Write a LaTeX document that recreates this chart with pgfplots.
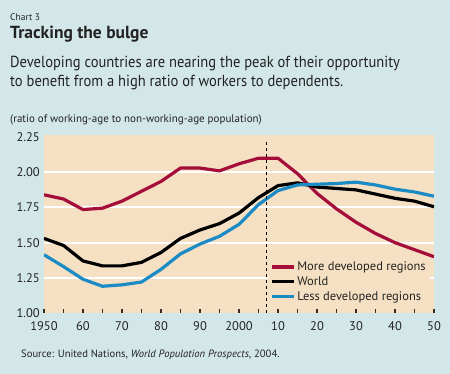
\documentclass[border=0pt]{standalone}
\usepackage{pgfplots}
\pgfplotsset{compat=1.18}
\usepackage{fontspec}
\setmainfont{PT Sans}
\newfontfamily\subfont[FakeStretch=0.91]{PT Sans}
\definecolor{bgblue}{HTML}{D3E7E9}
\definecolor{beige}{HTML}{F5E0C3}
\definecolor{mred}{HTML}{A50E3A}
\definecolor{lblue}{HTML}{1B8BC6}
\definecolor{tickc}{HTML}{3A2A20}
\definecolor{txt}{HTML}{222222}
\begin{document}
\begin{tikzpicture}[x=1pt,y=1pt]
\fill[bgblue] (0,0) rectangle (450,374);
\node[anchor=base west, inner sep=0, text=txt, font=\fontsize{9.5}{11}\selectfont] at (10,353) {Chart 3};
\node[anchor=base west, inner sep=0, text=txt, font=\fontsize{17.5}{20}\selectfont\bfseries] at (10,335) {Tracking the bulge};
\node[anchor=base west, inner sep=0, text=txt, font=\subfont\fontsize{16}{19}\selectfont] at (10,306) {Developing countries are nearing the peak of their opportunity};
\node[anchor=base west, inner sep=0, text=txt, font=\subfont\fontsize{16}{19}\selectfont] at (10,287) {to benefit from a high ratio of workers to dependents.};
\node[anchor=base west, inner sep=0, text=txt, font=\fontsize{11}{13}\selectfont] at (10,251) {(ratio of working-age to non-working-age population)};
\node[anchor=base west, inner sep=0, text=txt, font=\fontsize{10.6}{12}\selectfont] at (21,16) {Source: United Nations, \textit{World Population Prospects}, 2004.};
\begin{axis}[
  at={(44pt,61pt)}, anchor=south west,
  scale only axis, width=390pt, height=178pt,
  xmin=1950, xmax=2050, ymin=1, ymax=2.265,
  axis background/.style={fill=beige},
  axis line style={draw=none},
  xtick={1950,1960,...,2050},
  xticklabels={1950,60,70,80,90,2000,10,20,30,40,50},
  minor xtick={1955,1965,...,2045},
  xtick pos=bottom, ytick pos=left,
  tick align=inside,
  major tick length=4pt, minor tick length=4pt,
  x tick style={draw=tickc, line width=1.2pt},
  ytick={1,1.25,...,2.25},
  y tick style={draw=none},
  extra y ticks={1.25,1.5,1.75,2},
  extra y tick labels={},
  extra y tick style={ymajorgrids=true, grid style={white, line width=2pt}},
  y tick label style={/pgf/number format/fixed, /pgf/number format/fixed zerofill, /pgf/number format/precision=2, /pgf/number format/assume math mode=true},
  yticklabel style={anchor=east, inner sep=0pt, xshift=-4pt},
  xticklabel style={anchor=north, inner sep=0pt, yshift=-8pt},
  tick label style={font=\fontsize{12.5}{14}\selectfont, text=txt},
  legend style={at={(0.574,0.04)}, anchor=south west, fill=beige, draw=none,
    font=\fontsize{12.5}{14}\selectfont, text=txt, row sep=0.5pt, inner sep=2pt},
  legend cell align=left,
  legend image code/.code={\draw[#1] (0pt,0pt) -- (22pt,0pt);},
  every axis plot/.append style={line width=3.2pt, line join=round},
]
\addplot[mred] coordinates {(1950,1.84) (1955,1.81) (1960,1.735) (1965,1.745) (1970,1.795) (1975,1.865) (1980,1.935) (1985,2.03) (1990,2.03) (1995,2.01) (2000,2.06) (2005,2.10) (2010,2.10) (2015,1.99) (2020,1.85) (2025,1.74) (2030,1.645) (2035,1.565) (2040,1.50) (2045,1.45) (2050,1.40)};
\addlegendentry{More developed regions}
\addplot[black] coordinates {(1950,1.53) (1955,1.48) (1960,1.37) (1965,1.335) (1970,1.335) (1975,1.36) (1980,1.43) (1985,1.53) (1990,1.59) (1995,1.635) (2000,1.71) (2005,1.82) (2010,1.905) (2015,1.925) (2020,1.895) (2025,1.885) (2030,1.875) (2035,1.845) (2040,1.815) (2045,1.795) (2050,1.755)};
\addlegendentry{World}
\addplot[lblue] coordinates {(1950,1.414) (1955,1.33) (1960,1.24) (1965,1.19) (1970,1.20) (1975,1.22) (1980,1.31) (1985,1.42) (1990,1.49) (1995,1.545) (2000,1.63) (2005,1.77) (2010,1.87) (2015,1.91) (2020,1.915) (2025,1.92) (2030,1.93) (2035,1.91) (2040,1.88) (2045,1.86) (2050,1.83)};
\addlegendentry{Less developed regions}
\draw[black, line width=0.9pt, dash pattern=on 3pt off 3pt] (axis cs:2007,1) -- (axis cs:2007,2.22);
\end{axis}
\end{tikzpicture}
\end{document}
